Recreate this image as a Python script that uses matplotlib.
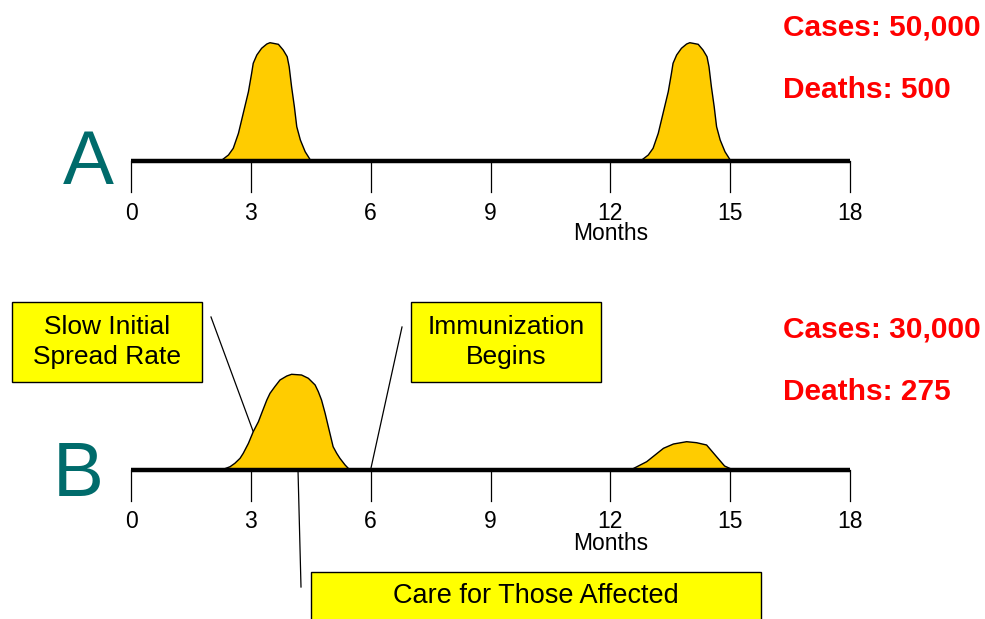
import matplotlib
matplotlib.use("Agg")
import matplotlib.pyplot as plt
import matplotlib.transforms as mtransforms
from matplotlib.patches import Rectangle

plt.rcParams['font.family'] = ['Liberation Sans', 'DejaVu Sans']

# ---------------- data ----------------
month_ticks = [0, 3, 6, 9, 12, 15, 18]
tick_labels = ["0", "3", "6", "9", "12", "15", "18"]

# scenario A: two outbreaks (months, relative intensity)
a1_months = [2.30, 2.44, 2.56, 2.69, 2.81, 2.94, 3.02, 3.06, 3.15, 3.27, 3.40, 3.48,
             3.69, 3.81, 3.91, 3.96, 4.02, 4.09, 4.15, 4.24, 4.36, 4.48]
a1_level  = [1.7, 6, 12.7, 27.7, 47.7, 69.3, 87.7, 97.7, 106, 112.7, 117, 118.3,
             116.7, 111, 104.3, 94.3, 74.3, 54.3, 34.3, 21, 9.3, 1.7]
a2_months = [12.81, 12.95, 13.07, 13.20, 13.32, 13.45, 13.53, 13.57, 13.66, 13.78, 13.91, 13.99,
             14.20, 14.32, 14.42, 14.47, 14.53, 14.60, 14.66, 14.75, 14.87, 14.99]
a2_level  = [1.7, 6, 12.7, 27.7, 47.7, 69.3, 87.7, 97.7, 106, 112.7, 117, 118.3,
             116.7, 111, 104.3, 94.3, 74.3, 54.3, 34.3, 21, 9.3, 1.7]

# scenario B
b1_months = [2.31, 2.48, 2.60, 2.73, 2.81, 2.94, 3.06, 3.19, 3.27, 3.40, 3.48, 3.60, 3.73, 3.90,
             4.02, 4.27, 4.44, 4.61, 4.69, 4.77, 4.86, 4.94, 5.02, 5.06, 5.15, 5.23, 5.36, 5.48]
b1_level  = [0.7, 3.3, 6.7, 11.7, 16.7, 26.7, 38.3, 48.3, 56.7, 70, 76.7, 83.3, 90, 94,
             95.7, 95, 91.7, 85, 78.3, 70, 56.7, 43.3, 30, 23.3, 16.7, 11.7, 5, 0]
b2_months = [12.54, 12.91, 13.33, 13.58, 13.91, 14.16, 14.41, 14.66, 14.86, 15.04]
b2_level  = [0.7, 8.3, 21.7, 26, 28.3, 27.3, 25, 13.3, 4, 0.7]

cases_text = [["Cases: 50,000", "Deaths: 500"], ["Cases: 30,000", "Deaths: 275"]]

# ---------------- layout ----------------
W, H = 985, 619
fig = plt.figure(figsize=(W / 100, H / 100), dpi=100)
ax = fig.add_axes([0, 0, 1, 1])
px_per_month = (850 - 131) / 18.0
ax.set_xlim(-131 / px_per_month, (W - 131) / px_per_month)
ax.set_ylim(H, 0)
ax.axis("off")

# pixel transform for annotations
pix = mtransforms.Affine2D().scale(1 / W, -1 / H).translate(0, 1) + fig.transFigure

baselines = [161, 470]
series = [[(a1_months, a1_level), (a2_months, a2_level)],
          [(b1_months, b1_level), (b2_months, b2_level)]]
fill_color = "#FFCC00"

for i, base in enumerate(baselines):
    for mx, lv in series[i]:
        ys = [base - v for v in lv]
        ax.fill_between(mx, ys, base, facecolor=fill_color, edgecolor="none", zorder=2)
        ax.plot(mx, ys, color="black", lw=1.0, zorder=3)
    # axis line
    ax.plot([0, 18], [base, base], color="black", lw=3.2, solid_capstyle="butt", zorder=4)
    for t, lab in zip(month_ticks, tick_labels):
        ax.plot([t, t], [base, base + 31], color="black", lw=0.9, zorder=4)
        ax.text(t, base + 52, lab, ha="center", va="center", fontsize=16.5, color="black")
    ax.text(12, base + 73, "Months", ha="center", va="center", fontsize=16.5, color="black")

# big letters
fig.text(88, 164, "A", transform=pix, ha="center", va="center", fontsize=55, color="#006B6B")
fig.text(78, 476, "B", transform=pix, ha="center", va="center", fontsize=55, color="#006B6B")

# cases/deaths
for (c, d), y0 in zip(cases_text, [28, 330]):
    fig.text(783, y0, c, transform=pix, ha="left", va="center", fontsize=21.5,
             fontweight="bold", color="#FF0000")
    fig.text(783, y0 + 62, d, transform=pix, ha="left", va="center", fontsize=21.5,
             fontweight="bold", color="#FF0000")

# annotation boxes
def box(x0, y0, x1, y1, text, tx, ty, fs):
    r = Rectangle((x0, y0), x1 - x0, y1 - y0, transform=pix, facecolor="#FFFF00",
                  edgecolor="black", lw=1.0, zorder=5)
    fig.add_artist(r)
    fig.text(tx, ty, text, transform=pix, ha="center", va="center", fontsize=fs,
             color="black", linespacing=1.3, zorder=6)

box(12, 302, 202, 382, "Slow Initial\nSpread Rate", 107, 342, 19)
box(411, 302, 601, 382, "Immunization\nBegins", 506, 342, 19)
box(311, 572, 761, 640, "Care for Those Affected", 536, 596, 19.5)

# leader lines
for (x0, y0, x1, y1) in [(211, 317, 253, 431), (402, 327, 371, 468), (298, 470, 301, 587)]:
    fig.add_artist(plt.Line2D([x0, x1], [y0, y1], transform=pix, color="black", lw=0.9, zorder=5))

fig.savefig("out.png", dpi=100)
